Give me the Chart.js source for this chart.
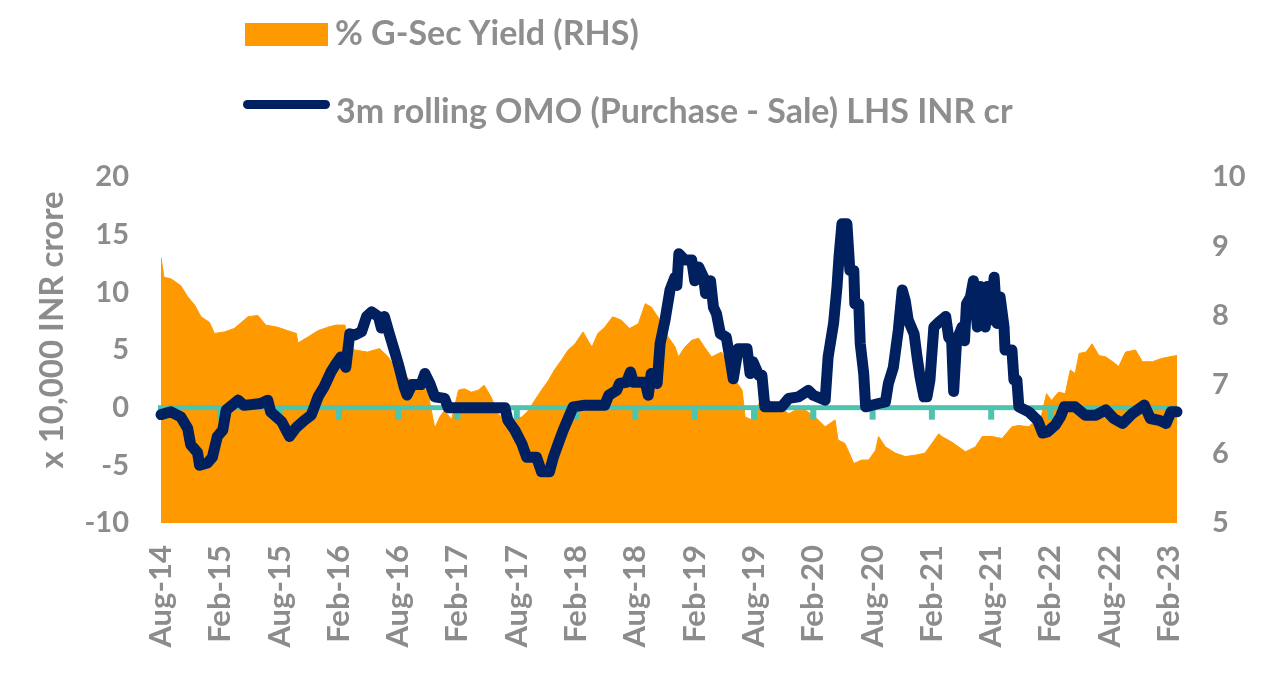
<!DOCTYPE html>
<html>
<head>
<meta charset="utf-8">
<script src="https://cdn.jsdelivr.net/npm/chart.js@4.4.1/dist/chart.umd.min.js"></script>
<style>
  html, body { margin: 0; padding: 0; background: #fff; }
  #wrap { position: relative; width: 1270px; height: 673px; }
  #wrap canvas { position: absolute; left: 0; top: 0; }
  .lbl { position: absolute; font: bold 34px Lato, sans-serif; line-height: 34px; color: #8E8E8E; white-space: nowrap; }
  .sw { position: absolute; }
</style>
</head>
<body>
<div id="wrap">
  <canvas id="omoChart" width="1270" height="673"></canvas>
  <div class="sw" style="left:245px;top:23px;width:83px;height:23px;background:#FF9900;"></div>
  <div class="lbl" style="left:335px;top:15px;">% G-Sec Yield (RHS)</div>
  <div class="sw" style="left:243px;top:100px;width:87px;height:9px;border-radius:5px;background:#002060;"></div>
  <div class="lbl" style="left:336px;top:93px;">3m rolling OMO (Purchase - Sale) LHS INR cr</div>
</div>
<script>
// x values are months since Aug-14
const tickLabels = ["Aug-14", "Feb-15", "Aug-15", "Feb-16", "Aug-16", "Feb-17", "Aug-17", "Feb-18", "Aug-18",
    "Feb-19", "Aug-19", "Feb-20", "Aug-20", "Feb-21", "Aug-21", "Feb-22", "Aug-22", "Feb-23"];

const omoMonths = [0, 1.0, 2.0, 2.7, 3.0, 3.7, 3.9, 4.7, 5.2, 5.7, 6.25, 6.6, 7.8, 8.4, 10.1, 10.8, 11.1, 12.2, 13.0, 13.7,
    14.5, 15.2, 15.9, 16.5, 17.2, 17.7, 18.2, 18.7, 19.1, 19.6, 20.3, 20.8, 21.3, 22.0, 22.3, 22.6, 23.1, 23.8, 24.1, 24.6,
    24.9, 25.4, 26.3, 26.7, 27.2, 27.7, 28.7, 29.05, 34.8, 35.1, 35.8, 36.5, 37.0, 38.0, 38.5, 39.3, 39.7, 40.2, 40.7, 41.2,
    41.7, 42.9, 44.9, 45.3, 46.1, 46.4, 47.1, 47.5, 47.8, 49.0, 49.3, 49.6, 50.2, 50.5, 51.0, 51.5, 52.0, 52.2, 52.4, 53.0,
    53.7, 54.0, 54.4, 54.9, 55.1, 55.6, 55.9, 56.2, 56.6, 57.2, 57.6, 57.9, 58.4, 59.3, 59.6, 59.9, 60.5, 60.8, 61.1, 62.8,
    63.5, 64.5, 65.5, 66.0, 67.2, 67.5, 68.05, 68.4, 68.6, 68.9, 69.4, 69.7, 70.1, 70.2, 70.6, 70.75, 71.1, 71.3, 72.6, 73.3,
    73.6, 74.1, 74.6, 75.0, 75.3, 75.6, 76.2, 76.5, 76.8, 77.2, 77.5, 77.8, 78.2, 78.7, 79.4, 79.7, 80.0, 80.2, 80.5, 81.05,
    81.3, 81.5, 81.9, 82.2, 82.6, 82.9, 83.4, 83.6, 83.9, 84.3, 84.6, 84.9, 85.3, 85.4, 86.1, 86.3, 86.6, 86.8, 87.8, 88.7,
    89.2, 89.7, 90.5, 91.0, 91.4, 92.5, 93.5, 94.6, 95.6, 96.4, 97.3, 98.3, 99.5, 100.1, 101.0, 101.7, 102.2, 102.8];
const omoValues = [-0.6, -0.36, -0.8, -1.8, -3.2, -3.9, -5.0, -4.8, -4.3, -2.5, -1.95, -0.2, 0.65, 0.2, 0.36, 0.65, -0.36, -1.2, -2.5, -1.7,
    -1.1, -0.65, 0.95, 1.8, 3.1, 3.8, 4.4, 3.5, 6.4, 6.3, 6.6, 7.9, 8.3, 7.9, 6.9, 7.9, 6.4, 4.4, 3.5, 1.8,
    1.1, 2.0, 2.0, 2.96, 2.1, 0.94, 0.8, 0, 0, -1.1, -1.95, -3.1, -4.3, -4.3, -5.56, -5.56, -4.3, -3.1, -1.95, -0.94,
    0.07, 0.22, 0.22, 1.08, 1.5, 2.1, 2.2, 3.1, 2.2, 2.2, 1.08, 2.96, 2.1, 5.56, 7.6, 10.2, 11.3, 10.6, 13.35, 12.8,
    12.8, 11.0, 12.2, 11.3, 9.9, 11.0, 8.7, 8.15, 6.4, 6.1, 4.1, 2.5, 5.1, 5.1, 2.96, 3.97, 2.8, 2.8, 0.07, 0.07,
    0.8, 0.94, 1.5, 1.08, 0.65, 4.4, 7.3, 10.5, 13.05, 15.95, 15.95, 11.9, 11.9, 9.0, 9.0, 5.56, 2.96, 0.07, 0.36, 0.5,
    2.1, 3.5, 6.7, 10.2, 9.3, 7.6, 6.4, 4.4, 2.67, 0.94, 0.94, 2.38, 7.0, 7.4, 7.9, 6.1, 5.8, 1.4, 5.8, 7.0,
    5.8, 9.0, 9.6, 11.0, 7.0, 10.5, 7.0, 10.5, 7.6, 11.3, 7.3, 9.6, 7.0, 5.0, 5.0, 2.4, 2.4, 0.07, -0.36, -1.1,
    -2.2, -2.1, -1.5, -0.8, 0.07, 0.07, -0.65, -0.65, -0.2, -0.94, -1.37, -0.5, 0.22, -0.94, -1.1, -1.37, -0.36, -0.36];

const yieldMonths = [0, 0.3, 1.0, 2.0, 2.7, 3.4, 4.05, 4.9, 5.4, 6.4, 7.4, 8.8, 9.8, 10.6, 11.8, 12.8, 13.7, 13.85, 14.9, 15.9,
    16.9, 17.7, 18.6, 19.2, 19.6, 20.9, 22.1, 23.0, 24.0, 25.0, 25.3, 26.3, 27.0, 27.7, 28.2, 28.7, 29.4, 30.1, 30.7, 31.4,
    32.1, 32.7, 33.4, 34.1, 34.8, 35.5, 36.5, 37.2, 37.8, 38.5, 39.2, 39.8, 40.5, 41.2, 41.9, 42.7, 43.6, 44.2, 44.9, 45.7,
    46.6, 47.4, 48.3, 49.0, 49.6, 50.5, 51.3, 52.0, 52.35, 53.0, 53.7, 54.4, 55.0, 55.7, 56.7, 57.4, 58.1, 58.8, 59.1, 59.8,
    60.5, 61.5, 62.5, 63.5, 64.2, 65.2, 66.2, 67.2, 68.2, 68.5, 69.2, 70.1, 70.9, 71.6, 72.3, 72.6, 73.3, 74.3, 75.3, 76.3,
    77.3, 78.0, 78.7, 79.0, 80.0, 81.4, 82.4, 83.1, 84.1, 85.1, 86.1, 86.8, 87.8, 88.5, 89.1, 89.6, 90.1, 90.8, 91.5, 92.0,
    92.5, 92.9, 93.6, 94.2, 94.9, 95.6, 96.3, 96.9, 97.6, 98.6, 99.3, 100.3, 101.3, 102.0, 102.8];
const yieldValues = [8.84, 8.55, 8.53, 8.43, 8.27, 8.15, 7.98, 7.90, 7.74, 7.76, 7.81, 7.98, 8.00, 7.86, 7.83, 7.78, 7.74, 7.60, 7.69, 7.78,
    7.83, 7.86, 7.86, 7.55, 7.50, 7.47, 7.52, 7.40, 7.16, 7.09, 7.06, 7.02, 6.89, 6.37, 6.53, 6.63, 6.49, 6.92, 6.94, 6.89,
    6.92, 6.99, 6.82, 6.58, 6.49, 6.51, 6.53, 6.63, 6.77, 6.92, 7.06, 7.21, 7.35, 7.50, 7.59, 7.76, 7.54, 7.74, 7.83, 7.98,
    7.93, 7.81, 7.88, 8.17, 8.12, 7.93, 7.69, 7.55, 7.40, 7.54, 7.64, 7.67, 7.54, 7.40, 7.47, 7.30, 7.06, 6.92, 6.53, 6.49,
    6.73, 6.77, 6.70, 6.58, 6.63, 6.63, 6.53, 6.39, 6.49, 6.20, 6.15, 5.86, 5.91, 5.91, 6.05, 6.25, 6.10, 6.01, 5.96, 5.98,
    6.01, 6.15, 6.29, 6.25, 6.17, 6.03, 6.10, 6.25, 6.25, 6.22, 6.39, 6.41, 6.39, 6.49, 6.56, 6.87, 6.77, 6.89, 6.87, 7.21,
    7.16, 7.45, 7.47, 7.59, 7.42, 7.40, 7.33, 7.26, 7.47, 7.50, 7.33, 7.33, 7.38, 7.40, 7.42];

const textGray = "#8C8C8C";
const yTickFont = { family: "Lato", size: 29, weight: "bold" };
const xTickFont = { family: "Lato", size: 31, weight: "bold" };

// teal zero line with small tick marks, drawn over the area but under the OMO line
const zeroLine = {
    id: "zeroLine",
    beforeDatasetDraw(chart, args) {
        if (args.index !== 1) return;
        const { ctx, chartArea, scales } = chart;
        const y = scales.y.getPixelForValue(0);
        ctx.save();
        ctx.fillStyle = "#4EC3AE";
        ctx.fillRect(chartArea.left - 3, y - 2.5, chartArea.right - chartArea.left + 3, 5);
        tickLabels.forEach(function (_, i) {
            const x = scales.x.getPixelForValue(i * 6);
            ctx.fillRect(x - 3, y, 6, 12);
        });
        ctx.restore();
    }
};

new Chart(document.getElementById("omoChart"), {
    type: "line",
    data: {
        datasets: [
            {
                label: "% G-Sec Yield (RHS)",
                data: yieldMonths.map((m, i) => ({ x: m, y: yieldValues[i] })),
                yAxisID: "y1",
                borderColor: "#FF9900",
                backgroundColor: "#FF9900",
                borderWidth: 1,
                fill: "start",
                pointRadius: 0,
                tension: 0,
                order: 1,
            },
            {
                label: "3m rolling OMO (Purchase - Sale) LHS INR cr",
                data: omoMonths.map((m, i) => ({ x: m, y: omoValues[i] })),
                yAxisID: "y",
                borderColor: "#002060",
                borderWidth: 11,
                borderJoinStyle: "round",
                borderCapStyle: "round",
                fill: false,
                pointRadius: 0,
                tension: 0,
                clip: 8,
                order: 0,
            },
        ],
    },
    options: {
        responsive: false,
        animation: false,
        layout: { padding: { top: 177, left: 0, right: 0, bottom: 0 } },
        plugins: { legend: { display: false }, tooltip: { enabled: false } },
        scales: {
            x: {
                type: "linear",
                min: 0,
                max: 102.8,
                grid: { display: false, drawTicks: false },
                border: { display: false },
                afterBuildTicks: function (scale) {
                    scale.ticks = tickLabels.map((_, i) => ({ value: i * 6 }));
                },
                afterFit: function (scale) { scale.height = 150; },
                ticks: {
                    autoSkip: false,
                    maxRotation: 90,
                    minRotation: 90,
                    padding: 22,
                    color: textGray,
                    font: xTickFont,
                    callback: function (value) { return tickLabels[Math.round(value / 6)]; },
                },
            },
            y: {
                position: "left",
                min: -10,
                max: 20,
                grid: { display: false, drawTicks: false },
                border: { display: false },
                afterFit: function (scale) { scale.width = 161; },
                ticks: { stepSize: 5, padding: 32, color: textGray, font: yTickFont },
                title: {
                    display: true,
                    text: "     x 10,000 INR crore",
                    color: textGray,
                    font: { family: "Lato", size: 33, weight: "bold" },
                    padding: { top: 33, bottom: 0 },
                },
            },
            y1: {
                position: "right",
                min: 5,
                max: 10,
                grid: { display: false, drawTicks: false },
                border: { display: false },
                afterFit: function (scale) { scale.width = 93; },
                ticks: { stepSize: 1, padding: 35, color: textGray, font: yTickFont },
            },
        },
    },
    plugins: [zeroLine],
});
</script>
</body>
</html>
